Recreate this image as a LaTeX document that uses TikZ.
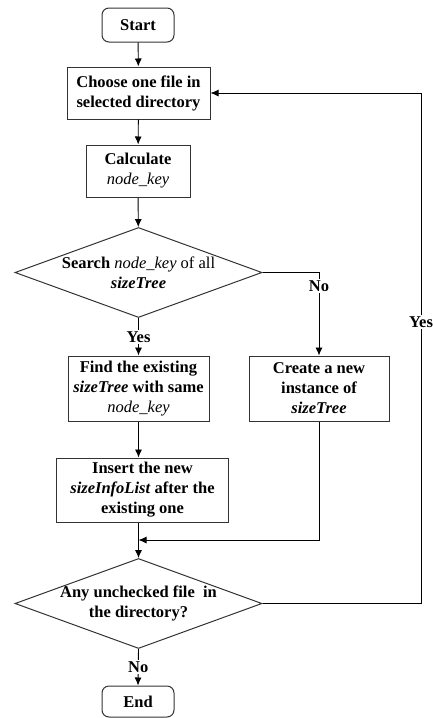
\documentclass[tikz,border=0pt]{standalone}
\usepackage{fontspec}
\setmainfont{Liberation Serif}
\usetikzlibrary{shapes.geometric,arrows.meta,positioning}

\tikzstyle{arrow} = [draw, -{Latex[length=8pt,width=7pt]}]
\tikzstyle{process} = [draw=black!80, rectangle, align=center, inner sep=2pt, line width=1pt]
\tikzstyle{terminal} = [process, rounded corners=7pt, minimum width=72, minimum height=34]
\tikzstyle{decision} = [draw=black!80, diamond, inner sep=0pt, line width=1pt, minimum width=247, minimum height=90]
\tikzstyle{lbl} = [fill=white, inner sep=1.5pt]
\newcommand{\nkey}{\textnormal{\textit{node\_key}}}

\begin{document}
\begin{tikzpicture}[x=1pt, y=-1pt, line width=0.9pt,
    font=\fontsize{16.5}{20}\selectfont\bfseries]
    \useasboundingbox (0,0) rectangle (433,718);

    % nodes
    \node[terminal] (start) at (138,25) {Start};
    \node[process, minimum width=143, minimum height=52] (choose) at (138.5,93) {Choose one file in\\selected directory};
    \node[process, minimum width=104, minimum height=52] (calc) at (138,171) {Calculate\\\nkey};
    \node[decision] (search) at (138.5,272.5) {};
    \node at (search) [align=center] {Search \nkey{} \textnormal{of all}\\\textit{sizeTree}};
    \node[process, minimum width=141, minimum height=65] (find) at (138.5,388.5) {Find the existing\\\textit{sizeTree} with same\\\nkey};
    \node[process, minimum width=140, minimum height=65] (create) at (319,388.5) {Create a new\\instance of\\\textit{sizeTree}};
    \node[process, minimum width=172, minimum height=64] (insert) at (142.5,490) {Insert the new\\\textit{sizeInfoList} after the\\existing one};
    \node[decision] (any) at (138.5,603.5) {};
    \node at (any) [align=center] {Any unchecked file~ in\\the directory?};
    \node[terminal, minimum height=31] (end) at (138,701.5) {End};

    \coordinate (join) at (138.5,540);
    \coordinate (loop) at (421,603.5);

    % main flow
    \draw[arrow] (start) -- (choose);
    \draw[arrow] (choose) -- (calc);
    \draw[arrow] (calc) -- (search);
    \draw[arrow] (search.south) -- node[lbl] {Yes} (find.north);
    \draw[arrow] (search.east) -| node[lbl, pos=0.58] {No} (create.north);
    \draw[arrow] (find) -- (insert.north -| find);
    \draw[arrow] (insert.south -| join) -- (any.north);
    \draw[arrow] (create.south) |- (join);
    \draw[arrow] (any.south) -- node[lbl] {No} (end.north);

    % back to the top
    \draw[arrow] (any.east) -- (loop) |- node[lbl, pos=0.276] {Yes} (choose.east);
\end{tikzpicture}
\end{document}
